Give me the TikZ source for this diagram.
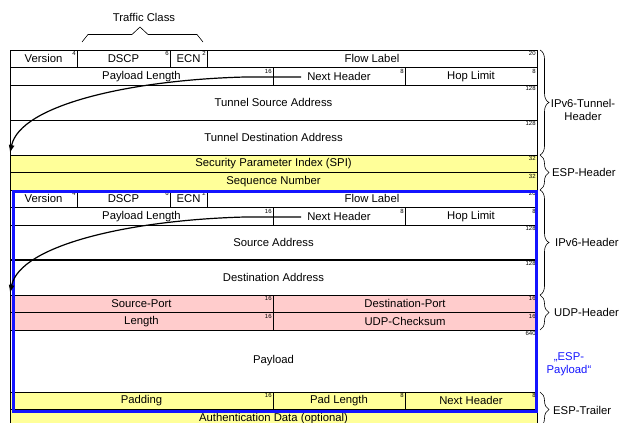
\documentclass[tikz,border=0pt]{standalone}
\usepackage{fontspec}
\setmainfont{Liberation Sans}
\usetikzlibrary{decorations.pathreplacing,arrows.meta}
\definecolor{espyellow}{RGB}{255,255,153}
\definecolor{udppink}{RGB}{255,204,204}
\definecolor{espblue}{RGB}{20,20,255}
\newcommand\fld[8]{%
  \node[cell,fill=#6,minimum width={(#4-#2)*1pt},minimum height={(#5-#3)*1pt}] (#1) at (#2,#3) {#7};
  \node[bits] (#1-b) at (#1.north east) {#8};}
\begin{document}
\begin{tikzpicture}[x=1pt,y=-1pt,
  cell/.style={draw=black,line width=0.6pt,anchor=north west,inner sep=0pt,outer sep=0pt,font=\fontsize{11.3}{13}\selectfont},
  bits/.style={anchor=north east,inner sep=1.2pt,font=\fontsize{6}{6.5}\selectfont},
  lab/.style={font=\fontsize{11.3}{13.5}\selectfont,align=center,inner sep=0pt},
  rbrace/.style={decorate,decoration={brace,amplitude=9pt},line width=0.6pt},
  arr/.style={-{Latex[length=8pt,width=6pt]},line width=1.2pt}]
\useasboundingbox (0,0) rectangle (619,423);
\clip (0,0) rectangle (619,423);
% outer IPv6 tunnel header
\fld{v1}{10}{50}{77}{67.5}{white}{Version}{4}
\fld{d1}{77}{50}{170}{67.5}{white}{DSCP}{6}
\fld{e1}{170}{50}{207}{67.5}{white}{ECN}{2}
\fld{f1}{207}{50}{537}{67.5}{white}{Flow Label}{20}
\fld{p1}{10}{67.5}{273}{85}{white}{Payload Length}{16}
\fld{n1}{273}{67.5}{405}{85}{white}{Next Header}{8}
\fld{h1}{405}{67.5}{537}{85}{white}{Hop Limit}{8}
\fld{s1}{10}{85}{537}{120}{white}{Tunnel Source Address}{128}
\fld{t1}{10}{120}{537}{155}{white}{Tunnel Destination Address}{128}
% ESP header
\fld{spi}{10}{155}{537}{172.5}{espyellow}{Security Parameter Index (SPI)}{32}
\fld{seq}{10}{172.5}{537}{190}{espyellow}{Sequence Number}{32}
% inner IPv6 header
\fld{v2}{10}{190}{77}{207.5}{white}{Version}{4}
\fld{d2}{77}{190}{170}{207.5}{white}{DSCP}{6}
\fld{e2}{170}{190}{207}{207.5}{white}{ECN}{2}
\fld{f2}{207}{190}{537}{207.5}{white}{Flow Label}{20}
\fld{p2}{10}{207.5}{273}{225}{white}{Payload Length}{16}
\fld{n2}{273}{207.5}{405}{225}{white}{Next Header}{8}
\fld{h2}{405}{207.5}{537}{225}{white}{Hop Limit}{8}
\fld{s2}{10}{225}{537}{260}{white}{Source Address}{128}
\fld{t2}{10}{260}{537}{295}{white}{Destination Address}{128}
\draw[line width=1.6pt] (s2.south west) -- (s2.south east);
% UDP header
\fld{sp}{10}{295}{273}{312.5}{udppink}{Source-Port}{16}
\fld{dp}{273}{295}{537}{312.5}{udppink}{Destination-Port}{16}
\fld{ln}{10}{312.5}{273}{330}{udppink}{Length}{16}
\fld{ck}{273}{312.5}{537}{330}{udppink}{UDP-Checksum}{16}
% payload
\fld{pl}{10}{330}{537}{392}{white}{Payload}{640}
% ESP trailer
\fld{pd}{10}{392}{273}{409.5}{espyellow}{Padding}{16}
\fld{pdl}{273}{392}{405}{409.5}{espyellow}{Pad Length}{8}
\fld{nh3}{405}{392}{537}{409.5}{espyellow}{Next Header}{8}
\fld{au}{10}{409.5}{537}{427}{espyellow}{Authentication Data (optional)}{}
% ESP payload frame
\node[draw=espblue,line width=3pt,anchor=north west,inner sep=0pt,minimum width=523pt,minimum height=220pt] (esppay) at (12,190) {};
% next header arrows
\coordinate (a1s) at (301,77);
\coordinate (a1e) at (10,153);
\draw[arr] (a1s) -- (245,77) .. controls (130,80) and (20,105) .. (a1e);
\coordinate (a2s) at (301,217);
\coordinate (a2e) at (10,293);
\draw[arr] (a2s) -- (245,217) .. controls (130,220) and (20,245) .. (a2e);
% traffic class brace
\draw[line width=0.6pt] (82,42) -- (88,34.5) -- (132,34.5) -- (140,27) -- (148,34.5) -- (197,34.5) -- (203,42);
\node[lab] (tc) at (144,17) {Traffic Class};
% right braces
\draw[rbrace] (540,50) -- (540,155);
\draw[rbrace] (540,155) -- (540,190);
\draw[rbrace] (540,190) -- (540,295);
\draw[rbrace] (540,295) -- (540,330);
\draw[rbrace] (540,392) -- (540,427);
\node[lab] (ltun) at (583,110) {IPv6-Tunnel-\\Header};
\node[lab,anchor=west] (lesp) at (552,172.5) {ESP-Header};
\node[lab,anchor=west] (lip) at (555,242.5) {IPv6-Header};
\node[lab,anchor=west] (ludp) at (554,312.5) {UDP-Header};
\node[lab,text=espblue] (lpay) at (569,364) {„ESP-\\Payload“};
\node[lab,anchor=west] (ltr) at (553,410) {ESP-Trailer};
\end{tikzpicture}
\end{document}
